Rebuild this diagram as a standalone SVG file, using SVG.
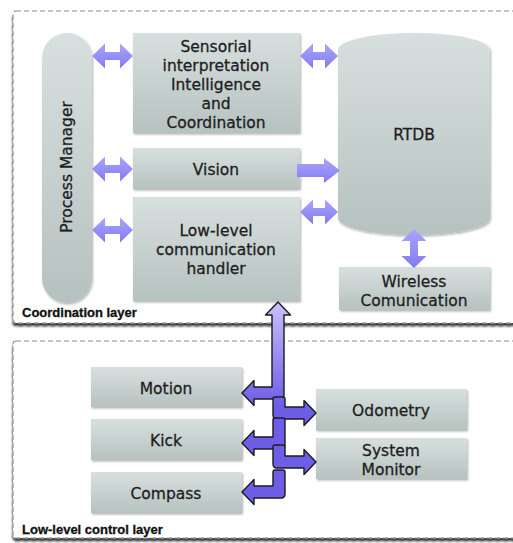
<svg xmlns="http://www.w3.org/2000/svg" width="513" height="543" viewBox="0 0 513 543">
<defs>
<linearGradient id="boxg" x1="0" y1="0" x2="0" y2="1">
<stop offset="0" stop-color="#d8e0df"/>
<stop offset="1" stop-color="#b6c2c0"/>
</linearGradient>
<linearGradient id="arrg" x1="0" y1="0" x2="0" y2="1">
<stop offset="0" stop-color="#aaa6fc"/>
<stop offset="1" stop-color="#847af0"/>
</linearGradient>
<linearGradient id="bigg" gradientUnits="userSpaceOnUse" x1="0" y1="300" x2="0" y2="405">
<stop offset="0" stop-color="#cac3fb"/>
<stop offset="1" stop-color="#6d5ee8"/>
</linearGradient>
<filter id="sh" x="-10%" y="-10%" width="130%" height="130%">
<feDropShadow dx="1" dy="1.5" stdDeviation="1" flood-color="#000" flood-opacity="0.3"/>
</filter>
<filter id="lsh" x="-5%" y="-5%" width="110%" height="115%">
<feDropShadow dx="0" dy="3" stdDeviation="1.2" flood-color="#000" flood-opacity="0.75"/>
</filter>
<style>
.layer{fill:#ffffff;stroke:#8a8a8a;stroke-width:1.2;stroke-dasharray:5 3}
.box{fill:url(#boxg);filter:url(#sh)}
.t{font-family:"DejaVu Sans",Verdana,sans-serif;font-size:15.5px;fill:#1e1e1e;stroke:#1e1e1e;stroke-width:0.3;text-anchor:middle}
.lt{font-family:"Liberation Sans",Arial,sans-serif;font-size:13px;font-weight:bold;fill:#111;stroke:#111;stroke-width:0.3}
.sa{fill:url(#arrg)}
.ba{fill:url(#bigg);stroke:#1c1c1c;stroke-width:1.4;stroke-linejoin:round}
</style>
</defs>
<rect width="513" height="543" fill="#ffffff"/>
<g id="coordination-layer">
<rect class="layer" x="13" y="11" width="520" height="312" rx="3" filter="url(#lsh)"/>
<text class="lt" x="22" y="317">Coordination layer</text>
</g>
<g id="lowlevel-layer">
<rect class="layer" x="13" y="341" width="520" height="197" rx="3" filter="url(#lsh)"/>
<text class="lt" x="22" y="534">Low-level control layer</text>
</g>
<g id="process-manager">
<rect class="box" x="42" y="33" width="50" height="270" rx="25"/>
<text class="t" transform="translate(72,167) rotate(-90)" x="0" y="0">Process Manager</text>
</g>
<g id="sensorial">
<rect class="box" x="133" y="33" width="167" height="100"/>
<text class="t" x="216" y="51.5">Sensorial</text>
<text class="t" x="216" y="70.5">interpretation</text>
<text class="t" x="216" y="89.5">Intelligence</text>
<text class="t" x="216" y="108.5">and</text>
<text class="t" x="216" y="127.5">Coordination</text>
</g>
<g id="vision">
<rect class="box" x="133" y="148" width="167" height="41"/>
<text class="t" x="216" y="174.5">Vision</text>
</g>
<g id="lowlevel-comm">
<rect class="box" x="133" y="197" width="167" height="104"/>
<text class="t" x="216" y="235.5">Low-level</text>
<text class="t" x="216" y="254.5">communication</text>
<text class="t" x="216" y="273.5">handler</text>
</g>
<g id="rtdb">
<path class="box" d="M338,50 A76,17 0 0 1 490,50 V218 A76,17 0 0 1 338,218 Z"/>
<text class="t" x="414" y="139.5">RTDB</text>
</g>
<g id="wireless">
<rect class="box" x="339" y="267" width="151" height="43"/>
<text class="t" x="414" y="286.5">Wireless</text>
<text class="t" x="414" y="305.5">Comunication</text>
</g>
<g id="motion">
<rect class="box" x="91" y="367" width="151" height="40"/>
<text class="t" x="166" y="393.5">Motion</text>
</g>
<g id="kick">
<rect class="box" x="91" y="419" width="151" height="41"/>
<text class="t" x="166" y="445.5">Kick</text>
</g>
<g id="compass">
<rect class="box" x="91" y="472" width="151" height="41"/>
<text class="t" x="166" y="498.5">Compass</text>
</g>
<g id="odometry">
<rect class="box" x="316" y="389" width="151" height="41"/>
<text class="t" x="391" y="415.5">Odometry</text>
</g>
<g id="system-monitor">
<rect class="box" x="316" y="438" width="151" height="41"/>
<text class="t" x="391" y="456">System</text>
<text class="t" x="391" y="475">Monitor</text>
</g>
<g id="connectors">
<polygon class="sa" points="92,56 105,43.5 105,52 120,52 120,43.5 133,56 120,68.5 120,60 105,60 105,68.5"/>
<polygon class="sa" points="92,169 105,156.5 105,165 120,165 120,156.5 133,169 120,181.5 120,173 105,173 105,181.5"/>
<polygon class="sa" points="92,230 105,217.5 105,226 120,226 120,217.5 133,230 120,242.5 120,234 105,234 105,242.5"/>
<polygon class="sa" points="300,56 313,43.5 313,52 325,52 325,43.5 338,56 325,68.5 325,60 313,60 313,68.5"/>
<polygon class="sa" points="297,164 324,164 324,158 340,170.5 324,183 324,177 297,177"/>
<polygon class="sa" points="300,212 313,199.5 313,208 325,208 325,199.5 338,212 325,224.5 325,216 313,216 313,224.5"/>
<polygon class="sa" points="414,229 426.5,241 418,241 418,256 426.5,256 414,268 401.5,256 410,256 410,241 401.5,241"/>
<path class="ba" d="M278,302 L290.5,315 L284,315 L284,395 Q284,399 280,399 L254,399 L254,405.5 L242,393 L254,380.5 L254,387 L272,387 L272,315 L265.5,315 Z"/>
<path class="ba" d="M273,399 Q273,397 275,397 L283,397 Q285,397 285,399 L285,407 L304,407 L304,400.5 L316,413 L304,425.5 L304,419 L277,419 Q273,419 273,415 Z"/>
<path class="ba" d="M273,420 Q273,418 275,418 L283,418 Q285,418 285,420 L285,445 Q285,449 281,449 L254,449 L254,455.5 L242,443 L254,430.5 L254,437 L273,437 Z"/>
<path class="ba" d="M273,447 Q273,445 275,445 L283,445 Q285,445 285,447 L285,456 L304,456 L304,449.5 L316,462 L304,474.5 L304,468 L277,468 Q273,468 273,464 Z"/>
<path class="ba" d="M273,472 Q273,470 275,470 L283,470 Q285,470 285,472 L285,494 Q285,498 281,498 L254,498 L254,504.5 L242,492 L254,479.5 L254,486 L273,486 Z"/>
</g>
</svg>
